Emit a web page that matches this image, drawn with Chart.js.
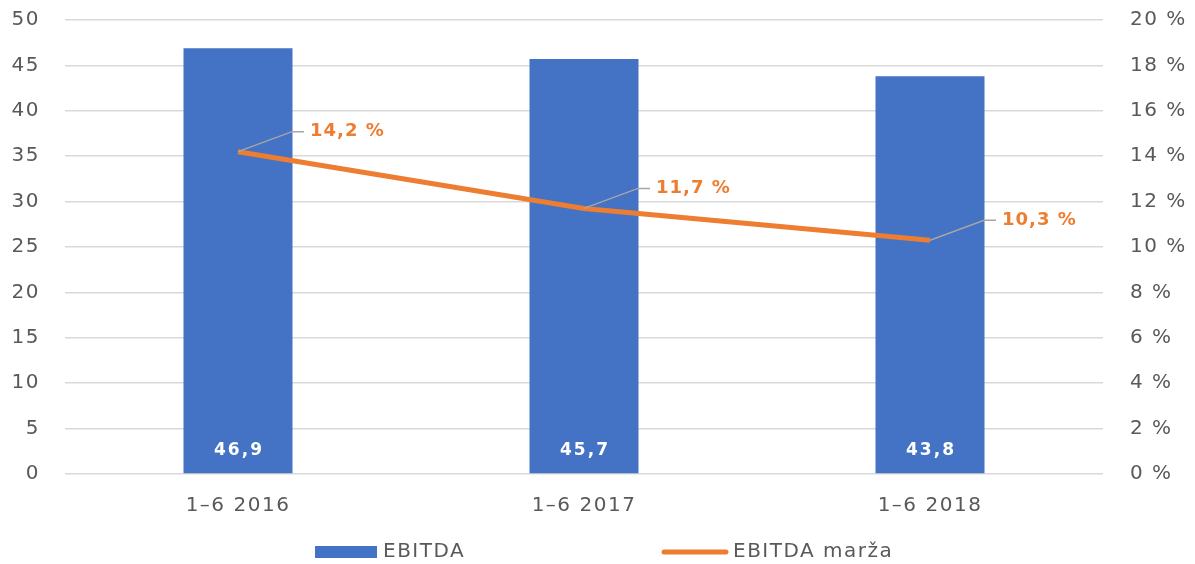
<!DOCTYPE html>
<html>
<head>
<meta charset="utf-8">
<script src="https://cdn.jsdelivr.net/npm/chart.js@4"></script>
<style>
  html, body { margin: 0; padding: 0; background: #fff; }
  #wrap { width: 1195px; height: 564px; }
</style>
</head>
<body>
<div id="wrap"><canvas id="graf"></canvas></div>
<script>
const obdobja = ['1–6 2016', '1–6 2017', '1–6 2018'];
const ebitda = [46.9, 45.7, 43.8];
const marza = [14.2, 11.7, 10.3];
const levaOs = [0, 5, 10, 15, 20, 25, 30, 35, 40, 45, 50];
const desnaOs = [0, 2, 4, 6, 8, 10, 12, 14, 16, 18, 20];

const modra = '#4472C4';
const oranzna = '#ED7D31';
const siva = '#595959';
const pisava = '"DejaVu Sans", sans-serif';

const fmt = v => v.toFixed(1).replace('.', ',');

// razmik med črkami za napise osi
const razmik = {
  id: 'razmik',
  beforeDraw(chart) {
    chart.ctx.letterSpacing = '1.5px';
  }
};

// oznake: vrednosti v stolpcih, marže s kazalnimi črtami, legenda
const oznake = {
  id: 'oznake',
  afterDatasetsDraw(chart) {
    const ctx = chart.ctx;
    const stolpci = chart.getDatasetMeta(0).data;
    const tocke = chart.getDatasetMeta(1).data;

    ctx.save();
    ctx.letterSpacing = '2px';
    ctx.font = 'bold 17px ' + pisava;
    ctx.fillStyle = '#fff';
    ctx.textAlign = 'center';
    ctx.textBaseline = 'middle';
    stolpci.forEach((b, i) => {
      ctx.fillText(fmt(ebitda[i]), b.x + 1, b.base - 23);
    });

    ctx.letterSpacing = '1px';
    tocke.forEach((p, i) => {
      const x2 = p.x + 54, y2 = p.y - 20;
      ctx.strokeStyle = '#a6a6a6';
      ctx.lineWidth = 1.5;
      ctx.beginPath();
      ctx.moveTo(p.x, p.y);
      ctx.lineTo(x2, y2);
      ctx.lineTo(x2 + 12, y2);
      ctx.stroke();
      ctx.font = 'bold 18px ' + pisava;
      ctx.fillStyle = oranzna;
      ctx.textAlign = 'left';
      ctx.fillText(fmt(marza[i]) + ' %', x2 + 18, y2);
    });

    // legenda
    const ly = 552;
    ctx.letterSpacing = '1.5px';
    ctx.fillStyle = modra;
    ctx.fillRect(315, ly - 6, 62, 12);
    ctx.fillStyle = siva;
    ctx.font = '20px ' + pisava;
    ctx.textAlign = 'left';
    ctx.fillText('EBITDA', 383, ly);
    ctx.strokeStyle = oranzna;
    ctx.lineWidth = 5;
    ctx.lineCap = 'round';
    ctx.beginPath();
    ctx.moveTo(664, ly);
    ctx.lineTo(726, ly);
    ctx.stroke();
    ctx.fillText('EBITDA marža', 733, ly);
    ctx.restore();
  }
};

new Chart(document.getElementById('graf'), {
  data: {
    labels: obdobja,
    datasets: [
      {
        type: 'bar',
        label: 'EBITDA',
        data: ebitda,
        backgroundColor: modra,
        yAxisID: 'y',
        barPercentage: 0.315,
        categoryPercentage: 1,
        order: 1
      },
      {
        type: 'line',
        label: 'EBITDA marža',
        data: marza,
        borderColor: oranzna,
        borderWidth: 5,
        pointRadius: 0,
        tension: 0,
        yAxisID: 'y1',
        order: 0
      }
    ]
  },
  options: {
    responsive: true,
    maintainAspectRatio: false,
    animation: false,
    layout: { padding: { top: 20, left: 0, right: 0, bottom: 0 } },
    plugins: {
      legend: { display: false },
      tooltip: { enabled: false }
    },
    scales: {
      x: {
        grid: { display: false },
        border: { display: false },
        ticks: { color: siva, font: { family: pisava, size: 20 }, padding: 12 },
        afterFit(s) { s.height = 90; }
      },
      y: {
        position: 'left',
        min: 0, max: 50,
        afterBuildTicks(s) { s.ticks = levaOs.map(v => ({ value: v })); },
        grid: { color: '#d9d9d9', lineWidth: 1.5, tickLength: 22, tickColor: 'rgba(0,0,0,0)' },
        border: { display: false },
        ticks: { color: siva, font: { family: pisava, size: 20 }, padding: 3 },
        afterFit(s) { s.width = 65; }
      },
      y1: {
        position: 'right',
        min: 0, max: 20,
        afterBuildTicks(s) { s.ticks = desnaOs.map(v => ({ value: v })); },
        grid: { display: false, tickLength: 24 },
        border: { display: false },
        ticks: {
          color: siva, font: { family: pisava, size: 20 }, padding: 3,
          callback: v => v + ' %'
        },
        afterFit(s) { s.width = 92; }
      }
    }
  },
  plugins: [razmik, oznake]
});
</script>
</body>
</html>
